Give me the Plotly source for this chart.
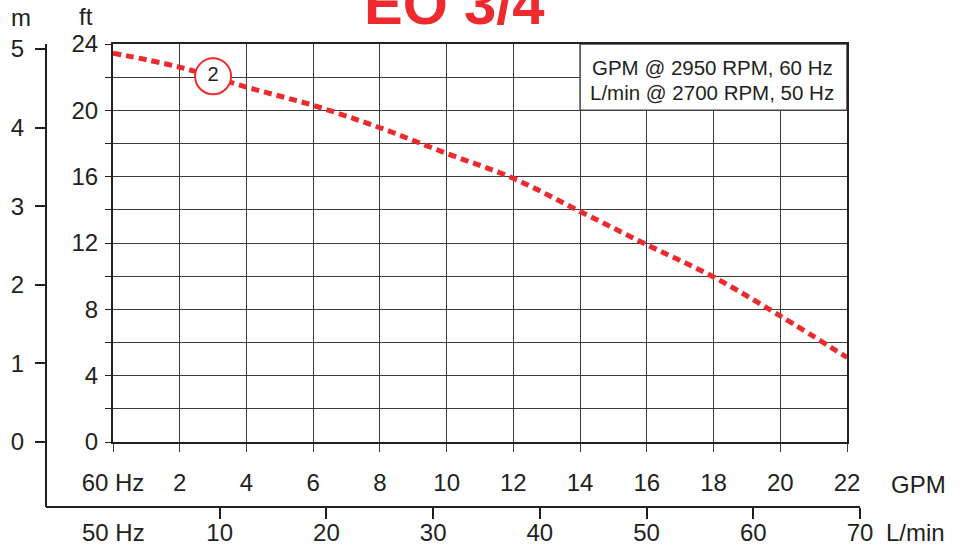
import plotly.graph_objects as go

# ---- data ----
gpm = [0, 2, 4, 6, 8, 10, 12, 14, 16, 18, 20, 22]
head_ft = [23.45, 22.6, 21.4, 20.3, 18.95, 17.4, 15.9, 13.9, 11.9, 9.95, 7.6, 5.1]
curve_label = ["2"]
label_gpm = [3]
label_ft = [22.05]

gpm_ticks = [0, 2, 4, 6, 8, 10, 12, 14, 16, 18, 20, 22]
gpm_ticktext = ["60 Hz", "2", "4", "6", "8", "10", "12", "14", "16", "18", "20", "22"]
ft_ticks = [0, 4, 8, 12, 16, 20, 24]
m_ticks = [0, 1, 2, 3, 4, 5]
lmin_ticks = [10, 20, 30, 40, 50, 60, 70]
title_text = "EO 3/4"
box_lines = ["GPM @ 2950 RPM, 60 Hz", "L/min @ 2700 RPM, 50 Hz"]

# ---- layout geometry (pixels) ----
W, H = 964, 548
PL, PR, PT, PB = 46, 860, 44, 507          # paper edges
AX_L, AX_R, AX_T, AX_B = 113, 847, 44, 442  # main plot area
pw, ph = PR - PL, PB - PT

def px(x):
    return (x - PL) / pw

def py(y):
    return (PB - y) / ph

INK = "#231f20"
RED = "#ed2a2e"
GRID = "#3c3c3c"
FONT = "Arial, Liberation Sans, sans-serif"
FS = 24

# m-axis range: 0 m at y=442, 5 m at y=49
m_per_px = 5 / (442 - 49)
m_range = [-(PB - 442) * m_per_px, 5 + (49 - PT) * m_per_px]
# L/min range: 0 at x=113, 70 at x=860
l_per_px = 70 / (860 - 113)
l_range = [-(113 - PL) * l_per_px, 70 + (PR - 860) * l_per_px]

fig = go.Figure()

fig.add_trace(go.Scatter(
    x=gpm, y=head_ft, mode="lines",
    line=dict(color=RED, width=5, dash="8px,5px", shape="spline"),
    hoverinfo="skip", showlegend=False,
))
fig.add_trace(go.Scatter(
    x=label_gpm, y=label_ft, mode="markers+text", text=curve_label,
    textposition="middle center",
    textfont=dict(family=FONT, size=20, color=INK),
    marker=dict(size=36, color="white", line=dict(color=RED, width=2)),
    hoverinfo="skip", showlegend=False,
))
# empty traces for the outer m / L/min axes
fig.add_trace(go.Scatter(x=[], y=[], xaxis="x2", yaxis="y2", showlegend=False, hoverinfo="skip"))
fig.add_trace(go.Scatter(x=[], y=[], xaxis="x3", yaxis="y2", showlegend=False, hoverinfo="skip"))

fig.update_layout(
    width=W, height=H,
    margin=dict(l=PL, r=W - PR, t=PT, b=H - PB, pad=0, autoexpand=False),
    paper_bgcolor="white", plot_bgcolor="rgba(0,0,0,0)",
    font=dict(family=FONT, size=FS, color=INK),
    showlegend=False,
    xaxis=dict(
        domain=[px(AX_L), px(AX_R)], range=[0, 22], anchor="y", automargin=False,
        tickvals=gpm_ticks, ticktext=gpm_ticktext,
        ticks="outside", ticklen=8, tickwidth=1, tickcolor=GRID,
        ticklabelstandoff=10,
        showgrid=True, gridcolor=GRID, gridwidth=1,
        showline=True, linecolor=INK, linewidth=2, mirror=True,
        zeroline=False, tickfont=dict(size=FS),
    ),
    yaxis=dict(
        domain=[py(AX_B), 1], range=[0, 24], anchor="x", automargin=False,
        tickvals=ft_ticks,
        ticks="outside", ticklen=6, tickwidth=1, tickcolor=INK,
        ticklabelstandoff=2,
        minor=dict(dtick=2, ticks="outside", ticklen=6, tickcolor=INK,
                   showgrid=True, gridcolor=GRID, gridwidth=1),
        showgrid=True, gridcolor=GRID, gridwidth=1,
        showline=True, linecolor=INK, linewidth=2, mirror=True,
        zeroline=False, tickfont=dict(size=FS),
    ),
    # L/min axis: line + tick marks
    xaxis2=dict(
        domain=[0, 1], range=l_range, anchor="free", position=0, side="bottom",
        automargin=False,
        tickvals=lmin_ticks, ticks="outside", ticklen=11, tickwidth=2, tickcolor=INK,
        showticklabels=False,
        showgrid=False, zeroline=False,
        showline=True, linecolor=INK, linewidth=2,
    ),
    # L/min axis: tick labels
    xaxis3=dict(
        domain=[0, 1], range=l_range, anchor="free", position=0, side="bottom",
        automargin=False,
        tickvals=lmin_ticks, ticks="", ticklabelstandoff=9,
        showgrid=False, zeroline=False, showline=False,
        tickfont=dict(size=FS),
    ),
    yaxis2=dict(
        domain=[0, 1], range=m_range, anchor="free", position=0, side="left",
        automargin=False,
        tickvals=m_ticks, ticks="outside", ticklen=10, tickwidth=2, tickcolor=INK,
        ticklabelstandoff=6,
        showgrid=False, zeroline=False,
        showline=True, linecolor=INK, linewidth=2, tickfont=dict(size=FS),
    ),
)

# info box
fig.add_shape(type="rect", xref="x", yref="y", x0=14, x1=22, y0=20, y1=24,
              fillcolor="white", line=dict(color="#444", width=1.5), layer="between")

ann = [
    dict(text=box_lines[0], x=px(712), y=py(68)),
    dict(text=box_lines[1], x=px(712), y=py(92)),
]
for a in ann:
    fig.add_annotation(xref="paper", yref="paper", showarrow=False,
                       xanchor="center", yanchor="middle",
                       font=dict(size=20.5, color=INK), **a)

labels = [
    ("m", 21, 18, "center"),
    ("ft", 86, 17, "center"),
    ("GPM", 918, 484, "center"),
    ("L/min", 915, 532, "center"),
    ("50 Hz", 113, 532, "center"),
]
for t, x, y, xa in labels:
    fig.add_annotation(text=t, xref="paper", yref="paper", x=px(x), y=py(y),
                       showarrow=False, xanchor=xa, yanchor="middle",
                       font=dict(size=FS, color=INK))

fig.add_annotation(text="<b>" + title_text + "</b>", xref="paper", yref="paper",
                   x=px(454), y=py(3), showarrow=False, xanchor="center", yanchor="middle",
                   font=dict(size=58, color=RED))

fig.write_html("out.html", config={"displayModeBar": False},
               post_script="document.body.style.margin='0px';document.body.style.overflow='hidden';")
